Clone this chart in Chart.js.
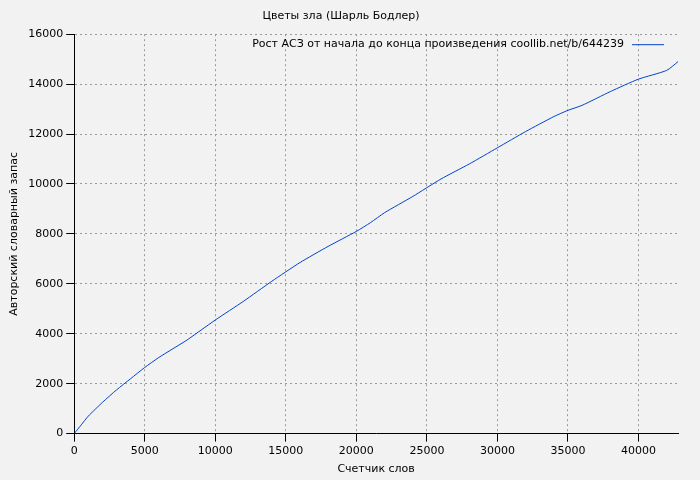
<!DOCTYPE html>
<html>
<head>
<meta charset="utf-8">
<script src="https://cdn.jsdelivr.net/npm/chart.js@4/dist/chart.umd.min.js"></script>
<style>
  body { margin: 0; background: #f2f2f2; }
  #wrap { width: 700px; height: 480px; }
</style>
</head>
<body>
<div id="wrap"><canvas id="chart"></canvas></div>
<script>
// Word counter (x) and author vocabulary (y)
const wordCounts = [0, 500, 1000, 2000, 3000, 4000, 5000, 6000, 7000, 8000, 9000, 10000, 12000, 14000, 16000, 18000, 20000, 21000, 22000, 24000, 26000, 28000, 30000, 32000, 34000, 35000, 36000, 38000, 40000, 42000, 42800];
const vocabulary = [0, 350, 700, 1250, 1750, 2200, 2650, 3050, 3400, 3750, 4150, 4550, 5300, 6100, 6850, 7500, 8100, 8450, 8850, 9500, 10200, 10800, 11450, 12100, 12700, 12950, 13150, 13700, 14200, 14550, 14900];
const xTicks = [0, 5000, 10000, 15000, 20000, 25000, 30000, 35000, 40000];
const seriesLabel = 'Рост АСЗ от начала до конца произведения coollib.net/b/644239';

Chart.defaults.font.family = 'DejaVu Sans';
Chart.defaults.font.size = 11;
Chart.defaults.color = '#000';

const bgPlugin = {
    id: 'bg',
    beforeDraw(chart) {
        const ctx = chart.ctx;
        ctx.save();
        ctx.fillStyle = '#f2f2f2';
        ctx.fillRect(0, 0, chart.width, chart.height);
        ctx.restore();
    }
};

// Legend drawn top-right inside plot, text then line sample
const legendPlugin = {
    id: 'legendRight',
    afterDraw(chart) {
        const ctx = chart.ctx;
        const area = chart.chartArea;
        const ds = chart.data.datasets[0];
        const y = area.top + 10;
        const lineEnd = area.right - 14;
        const lineStart = lineEnd - 32;
        ctx.save();
        ctx.font = '11px "DejaVu Sans"';
        ctx.fillStyle = '#000';
        ctx.textAlign = 'right';
        ctx.textBaseline = 'middle';
        ctx.fillText(ds.label, lineStart - 8, y);
        ctx.strokeStyle = ds.borderColor;
        ctx.lineWidth = 1;
        ctx.beginPath();
        ctx.moveTo(lineStart, y + 0.5);
        ctx.lineTo(lineEnd, y + 0.5);
        ctx.stroke();
        ctx.restore();
    }
};

const gridStyle = { color: '#999', tickColor: '#000' };
const borderStyle = { color: '#000', dash: [2, 3] };

new Chart(document.getElementById('chart'), {
    type: 'line',
    data: {
        datasets: [{
            label: seriesLabel,
            data: wordCounts.map((x, i) => ({ x: x, y: vocabulary[i] })),
            borderColor: '#0044cc',
            borderWidth: 1,
            pointRadius: 0,
            tension: 0.2,
            fill: false
        }]
    },
    options: {
        responsive: true,
        maintainAspectRatio: false,
        animation: false,
        layout: { padding: { top: 0, right: 22, left: 4, bottom: 2 } },
        plugins: {
            title: {
                display: true,
                text: 'Цветы зла (Шарль Бодлер)',
                font: { size: 11, weight: 'normal' },
                padding: { top: 10, bottom: 11 }
            },
            legend: { display: false },
            tooltip: { enabled: false }
        },
        scales: {
            x: {
                type: 'linear',
                min: 0,
                max: 42800,
                afterBuildTicks: axis => { axis.ticks = xTicks.map(v => ({ value: v })); },
                ticks: { callback: v => String(v) },
                grid: gridStyle,
                border: borderStyle,
                title: { display: true, text: 'Счетчик слов', padding: 2 }
            },
            y: {
                min: 0,
                max: 16000,
                ticks: { stepSize: 2000, callback: v => String(v) },
                grid: gridStyle,
                border: borderStyle,
                title: { display: true, text: 'Авторский словарный запас', padding: 4 }
            }
        }
    },
    plugins: [bgPlugin, legendPlugin]
});
</script>
</body>
</html>
